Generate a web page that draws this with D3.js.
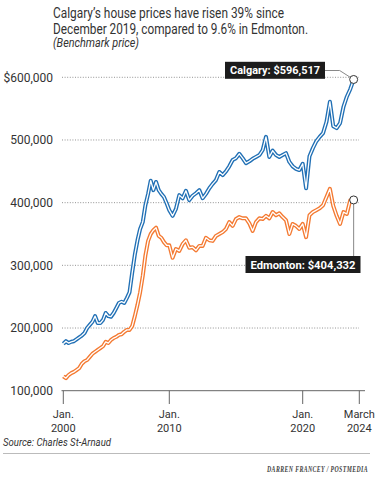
<!DOCTYPE html>
<html>
<head>
<meta charset="UTF-8">
<title>Calgary vs Edmonton house prices</title>
<script src="https://d3js.org/d3.v7.min.js"></script>
<style>
    body { margin: 0; background: #fff; }
    svg { display: block; font-family: Roboto, "Noto Sans", sans-serif; }
    .title { font-size: 14px; fill: #333; }
    .subtitle { font-size: 12px; font-style: italic; fill: #333; }
    .y-label { font-size: 12px; fill: #333; }
    .x-label { font-size: 11px; fill: #333; }
    .source { font-size: 10px; font-style: italic; fill: #333; }
    .credit { font-family: "Liberation Serif", serif; font-size: 9px; font-weight: bold; font-style: italic; fill: #444; letter-spacing: 0.6px; }
    .tag { font-size: 11.5px; font-weight: bold; fill: #fff; }
</style>
</head>
<body>
<script>
var width = 375, height = 492;

// benchmark price, one value per quarter, Jan 2000 .. Oct 2023
var calgary = [
    175000, 179000, 176000, 178000, 179000, 182000, 185000, 188000, 192000, 200000,
    205000, 210000, 219000, 208000, 208000, 213000, 224000, 219000, 218000, 224000,
    232000, 240000, 242000, 240000, 248000, 257000, 288000, 317000, 340000, 358000,
    369000, 396000, 414000, 435000, 420000, 433000, 420000, 414000, 409000, 399000,
    388000, 379000, 390000, 412000, 407000, 419000, 404000, 411000, 415000, 420000,
    407000, 414000, 423000, 430000, 436000, 449000, 444000, 450000, 458000, 468000,
    471000, 478000, 471000, 463000, 466000, 470000, 473000, 476000, 484000, 505000,
    473000, 483000, 476000, 473000, 476000, 479000, 465000, 458000, 454000, 452000,
    462000, 423000, 474000, 487000, 498000, 505000, 511000, 529000, 561000, 522000,
    519000, 527000, 553000, 569000, 581000, 596517
];
var edmonton = [
    123000, 120000, 125000, 128000, 130000, 133000, 136000, 143000, 147000, 149000,
    154000, 159000, 162000, 165000, 168000, 171000, 178000, 176000, 181000, 184000,
    186000, 189000, 190000, 194000, 197000, 197000, 203000, 219000, 237000, 257000,
    283000, 316000, 339000, 350000, 356000, 360000, 347000, 344000, 337000, 332000,
    332000, 312000, 326000, 323000, 334000, 340000, 328000, 329000, 324000, 331000,
    331000, 344000, 340000, 339000, 347000, 350000, 353000, 358000, 369000, 363000,
    374000, 377000, 375000, 375000, 367000, 355000, 369000, 375000, 374000, 379000,
    375000, 385000, 380000, 383000, 377000, 372000, 350000, 366000, 363000, 358000,
    366000, 345000, 380000, 385000, 388000, 391000, 396000, 409000, 422000, 395000,
    379000, 366000, 385000, 382000, 404000, 404332
];
var quarters = d3.timeMonth.every(3).range(new Date(2000, 0, 1), new Date(2023, 10, 1));

var tickDates = [new Date(2000, 0, 1), new Date(2010, 0, 1), new Date(2020, 0, 1), new Date(2024, 2, 1)];
var tickLabels = [["Jan.", "2000"], ["Jan.", "2010"], ["Jan.", "2020"], ["March", "2024"]];
var yTicks = [100000, 200000, 300000, 400000, 500000, 600000];

var blue = "#2170b5", orange = "#f47a32";

var svg = d3.select("body").append("svg")
    .attr("width", width).attr("height", height);

// the original axis is not evenly spaced, so the time scale is piecewise
var x = d3.scaleTime().domain(tickDates).range([63.3, 169.3, 302.7, 359.3]);
var y = d3.scaleLinear().domain([100000, 600000]).range([390.7, 77.3]);

// title
var title = ["Calgary\u2019s house prices have risen 39% since",
             "December 2019, compared to 9.6% in Edmonton."];
svg.selectAll(".title").data(title).enter().append("text")
    .attr("class", "title")
    .attr("x", 53).attr("y", function (d, i) { return 18.3 + i * 15.3; })
    .attr("textLength", function (d, i) { return i ? 255 : 231; })
    .attr("lengthAdjust", "spacingAndGlyphs")
    .text(function (d) { return d; });
svg.append("text").attr("class", "subtitle")
    .attr("x", 53).attr("y", 46.7)
    .attr("textLength", 86).attr("lengthAdjust", "spacingAndGlyphs")
    .text("(Benchmark price)");

// grid
svg.append("g").selectAll("line").data(yTicks.slice(1)).enter().append("line")
    .attr("x1", 62).attr("x2", 359)
    .attr("y1", function (d) { return y(d); }).attr("y2", function (d) { return y(d); })
    .attr("stroke", "#777").attr("stroke-width", 0.8).attr("stroke-dasharray", "1,1.6");

svg.append("line").attr("x1", 61.5).attr("x2", 365)
    .attr("y1", y(100000)).attr("y2", y(100000))
    .attr("stroke", "#666").attr("stroke-width", 1);

svg.append("g").selectAll("text").data(yTicks).enter().append("text")
    .attr("class", "y-label")
    .attr("x", 53).attr("y", function (d) { return y(d) + 4.3; })
    .attr("text-anchor", "end")
    .text(function (d) { return (d === 600000 ? "$" : "") + d3.format(",")(d); });

// x ticks
var xt = svg.append("g").selectAll("g").data(tickDates).enter().append("g")
    .attr("transform", function (d) { return "translate(" + x(d) + ",0)"; });
xt.append("line").attr("y1", y(100000)).attr("y2", 404)
    .attr("stroke", "#666").attr("stroke-width", 1);
xt.append("text").attr("class", "x-label").attr("text-anchor", "middle").attr("y", 418)
    .text(function (d, i) { return tickLabels[i][0]; });
xt.append("text").attr("class", "x-label").attr("text-anchor", "middle").attr("y", 432)
    .text(function (d, i) { return tickLabels[i][1]; });

// lines: coloured casing with a thin white core
var line = d3.line()
    .x(function (d, i) { return x(quarters[i]); })
    .y(function (d) { return y(d); });

[[edmonton, orange], [calgary, blue]].forEach(function (s) {
    svg.append("path").attr("d", line(s[0])).attr("fill", "none")
        .attr("stroke", s[1]).attr("stroke-width", 4).attr("stroke-linejoin", "round");
    svg.append("path").attr("d", line(s[0])).attr("fill", "none")
        .attr("stroke", "#fff").attr("stroke-width", 1.3).attr("stroke-linejoin", "round");
});

// end labels
var last = quarters[quarters.length - 1];
var cx = x(last);
var cyC = y(calgary[calgary.length - 1]), cyE = y(edmonton[edmonton.length - 1]);

svg.append("path")
    .attr("d", "M325," + 70.5 + "L" + (cx - 14) + ",70.5L" + cx + "," + cyC)
    .attr("fill", "none").attr("stroke", "#888").attr("stroke-width", 1);
svg.append("line").attr("x1", cx).attr("x2", cx).attr("y1", cyE).attr("y2", 256)
    .attr("stroke", "#888").attr("stroke-width", 1);

function tag(tx, ty, w, label) {
    svg.append("rect").attr("x", tx - 5).attr("y", ty - 12.5)
        .attr("width", w + 10).attr("height", 17).attr("fill", "#1c1c1c");
    svg.append("text").attr("class", "tag").attr("x", tx).attr("y", ty)
        .attr("textLength", w).attr("lengthAdjust", "spacingAndGlyphs").text(label);
}
tag(230, 74.3, 90, "Calgary: $" + d3.format(",")(calgary[calgary.length - 1]));
tag(250.5, 268.5, 105, "Edmonton: $" + d3.format(",")(edmonton[edmonton.length - 1]));

[cyC, cyE].forEach(function (cy) {
    svg.append("circle").attr("cx", cx).attr("cy", cy).attr("r", 4)
        .attr("fill", "#fff").attr("stroke", "#333").attr("stroke-width", 1);
});

// footer
svg.append("text").attr("class", "source").attr("x", 3).attr("y", 445.7)
    .attr("textLength", 108).attr("lengthAdjust", "spacingAndGlyphs")
    .text("Source: Charles St-Arnaud");
svg.append("line").attr("x1", 3).attr("x2", 370).attr("y1", 453.5).attr("y2", 453.5)
    .attr("stroke", "#bbb").attr("stroke-width", 1);

// credit is squeezed with a transform so its box stays honest
var credit = svg.append("g").attr("transform", "translate(368,472)");
var creditText = credit.append("text").attr("class", "credit")
    .attr("text-anchor", "end")
    .text("DARREN FRANCEY / POSTMEDIA");
var cw = creditText.node().getComputedTextLength();
creditText.attr("transform", "scale(" + Math.min(1, 101 / cw) + ",1)");
</script>
</body>
</html>
